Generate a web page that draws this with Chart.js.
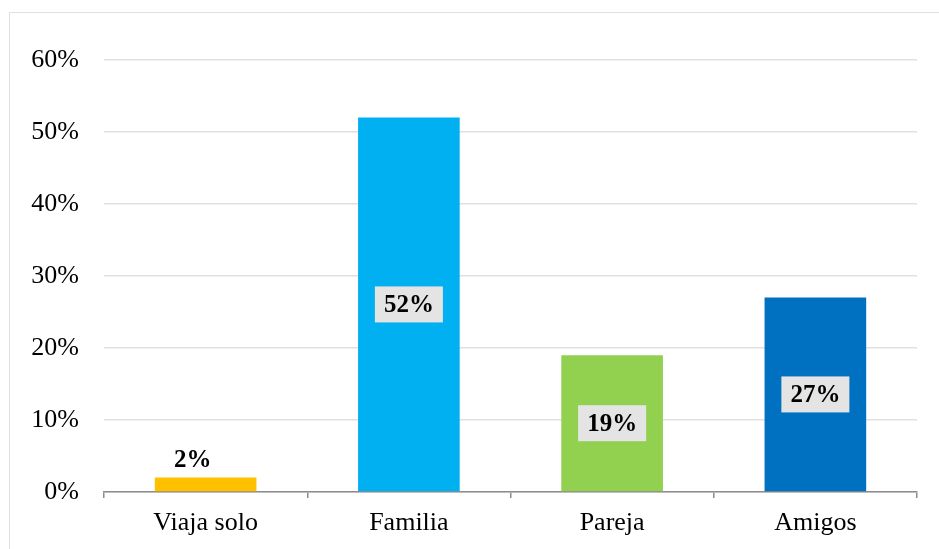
<!DOCTYPE html>
<html>
<head>
<meta charset="utf-8">
<script src="https://cdn.jsdelivr.net/npm/chart.js@4"></script>
<style>
  html, body { margin: 0; padding: 0; background: #fff; overflow: hidden; }
  #wrap { position: relative; width: 939px; height: 549px; }
  #frame { position: absolute; left: 9px; top: 12px; width: 960px; height: 560px;
           border-left: 1.5px solid #dde2e8; border-top: 1.5px solid #dde2e8; }
  canvas { position: absolute; left: 0; top: 0; }
</style>
</head>
<body>
<div id="wrap">
  <div id="frame"></div>
  <canvas id="barChart" width="939" height="549"></canvas>
</div>
<script>
    // Datos del gráfico
    var categorias = ['Viaja solo', 'Familia', 'Pareja', 'Amigos'];
    var porcentajes = [2, 52, 19, 27];
    var colores = ['#FFC000', '#00B0F0', '#92D050', '#0070C0'];
    var marcasY = [0, 10, 20, 30, 40, 50, 60];
    // posición de la etiqueta: 'fuera' encima de la barra, 'centro' dentro con caja
    var posEtiqueta = ['fuera', 'centro', 'centro', 'centro'];

    var serif = "'Liberation Serif', 'Times New Roman', serif";

    // Plugin simple para las etiquetas de datos
    var etiquetas = {
        id: 'etiquetas',
        afterDatasetsDraw: function (chart) {
            var ctx = chart.ctx;
            var meta = chart.getDatasetMeta(0);
            ctx.save();
            ctx.font = 'bold 25px ' + serif;
            ctx.textAlign = 'center';
            ctx.textBaseline = 'middle';
            meta.data.forEach(function (bar, i) {
                var txt = porcentajes[i] + '%';
                if (posEtiqueta[i] === 'fuera') {
                    ctx.fillStyle = '#000';
                    ctx.fillText(txt, bar.x - 13, bar.y - 17);
                    return;
                }
                var cy = (bar.y + bar.base) / 2;
                var w = ctx.measureText(txt).width + 18;
                var h = 36;
                ctx.fillStyle = '#E4E4E4';
                ctx.fillRect(bar.x - w / 2, cy - h / 2, w, h);
                ctx.fillStyle = '#000';
                ctx.fillText(txt, bar.x, cy + 1);
            });
            ctx.restore();
        }
    };

    var barChart = new Chart(document.getElementById('barChart').getContext('2d'), {
        type: 'bar',
        data: {
            labels: categorias,
            datasets: [{
                data: porcentajes,
                backgroundColor: colores,
                borderWidth: 0,
                categoryPercentage: 1,
                barPercentage: 0.5
            }]
        },
        options: {
            responsive: false,
            animation: false,
            layout: { padding: { left: 0, top: 60, right: 22, bottom: 0 } },
            plugins: { legend: { display: false }, tooltip: { enabled: false } },
            scales: {
                x: {
                    grid: { display: true, drawOnChartArea: false, drawTicks: true, tickLength: 6, color: '#8c8c8c', lineWidth: 1.5 },
                    border: { display: true, color: '#8c8c8c', width: 1.5 },
                    ticks: { color: '#000', font: { family: serif, size: 26 }, padding: 10 },
                    afterFit: function (s) { s.height = 57; }
                },
                y: {
                    min: 0,
                    max: 60,
                    afterBuildTicks: function (s) { s.ticks = marcasY.map(function (v) { return { value: v }; }); },
                    grid: { color: '#E0E0E0', lineWidth: 1.5, drawTicks: false },
                    border: { display: false },
                    ticks: {
                        color: '#000',
                        font: { family: serif, size: 26 },
                        padding: 25,
                        callback: function (v) { return v + '%'; }
                    },
                    afterFit: function (s) { s.width = 104; }
                }
            }
        },
        plugins: [etiquetas]
    });
</script>
</body>
</html>
